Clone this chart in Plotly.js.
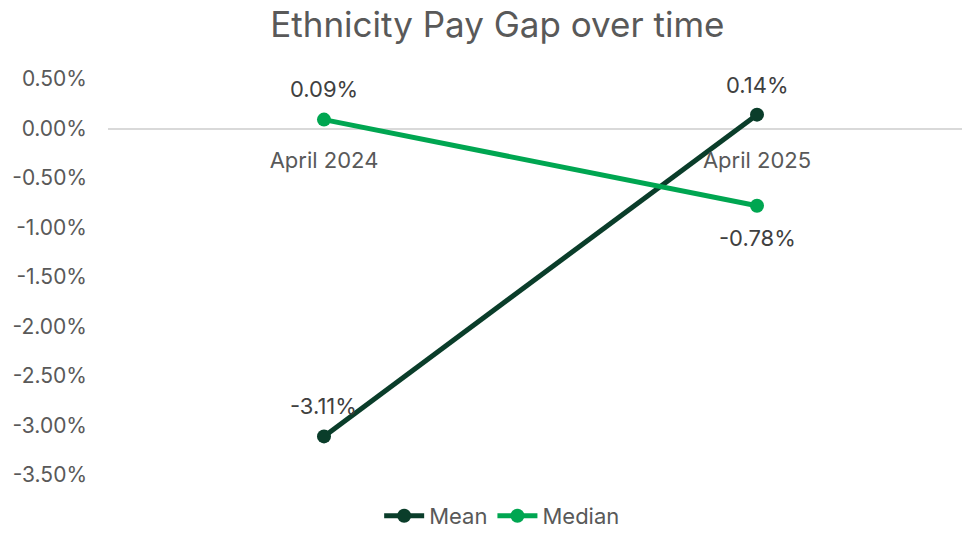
<!DOCTYPE html>
<html><head><meta charset="utf-8">
<script src="https://cdn.plot.ly/plotly-3.0.1.min.js"></script>
<style>html,body{margin:0;padding:0;background:#fff}</style>
</head><body>
<div id="chart" style="width:962px;height:537px"></div>
<script>
const categories = ["April 2024", "April 2025"];
const meanValues = [-3.11, 0.14];
const medianValues = [0.09, -0.78];
const meanLabels = ["-3.11%", "0.14%"];
const medianLabels = ["0.09%", "-0.78%"];
const meanLabelShift = [30, 30];
const medianLabelShift = [31, -32];
const yTickVals = [0.5, 0, -0.5, -1, -1.5, -2, -2.5, -3, -3.5];
const yTickText = ["0.50%", "0.00%", "-0.50%", "-1.00%", "-1.50%", "-2.00%", "-2.50%", "-3.00%", "-3.50%"];

const FONT = "Inter, 'Open Sans', sans-serif";
const meanColor = "#0a3d2a";
const medianColor = "#00a651";

const traces = [
  {x: [0, 1], y: meanValues, name: "Mean", mode: "lines+markers", type: "scatter",
   line: {color: meanColor, width: 5}, marker: {color: meanColor, size: 14}},
  {x: [0, 1], y: medianValues, name: "Median", mode: "lines+markers", type: "scatter",
   line: {color: medianColor, width: 5}, marker: {color: medianColor, size: 14}}
];

const annotations = [];
meanValues.forEach((v, i) => annotations.push({x: i, y: v, xref: "x", yref: "y", text: meanLabels[i],
  showarrow: false, yshift: meanLabelShift[i], font: {family: FONT, size: 22, color: "#404040"}}));
medianValues.forEach((v, i) => annotations.push({x: i, y: v, xref: "x", yref: "y", text: medianLabels[i],
  showarrow: false, yshift: medianLabelShift[i], font: {family: FONT, size: 22, color: "#404040"}}));

const layout = {
  width: 962, height: 537,
  margin: {l: 108, r: 0, t: 79, b: 62},
  paper_bgcolor: "#fff", plot_bgcolor: "#fff",
  title: {text: "Ethnicity Pay Gap over time", x: 0.517, xref: "container", xanchor: "center",
          y: 0.953, yanchor: "middle", yref: "container",
          font: {family: FONT, size: 35, color: "#595959"}},
  xaxis: {range: [-0.4988, 1.4734], tickvals: [0, 1], ticktext: categories,
          showgrid: false, zeroline: false, showline: false,
          anchor: "free", position: 0.875, ticks: "outside", ticklen: 12, tickcolor: "rgba(0,0,0,0)",
          tickfont: {family: FONT, size: 22, color: "#595959"}},
  yaxis: {range: [-3.5, 0.5], tickvals: yTickVals, ticktext: yTickText,
          showgrid: false, zeroline: true, zerolinecolor: "#d9d9d9", zerolinewidth: 2,
          showline: false, ticks: "", ticklabelstandoff: 20,
          tickfont: {family: FONT, size: 21, color: "#595959"}},
  showlegend: true,
  legend: {orientation: "h", x: 0.522, xref: "container", xanchor: "center", y: -0.012, yref: "container", yanchor: "bottom",
           font: {family: FONT, size: 22, color: "#595959"}, itemwidth: 40, tracegroupgap: 0},
  annotations: annotations
};

Plotly.newPlot("chart", traces, layout, {displayModeBar: false, staticPlot: true});
</script>
</body></html>
